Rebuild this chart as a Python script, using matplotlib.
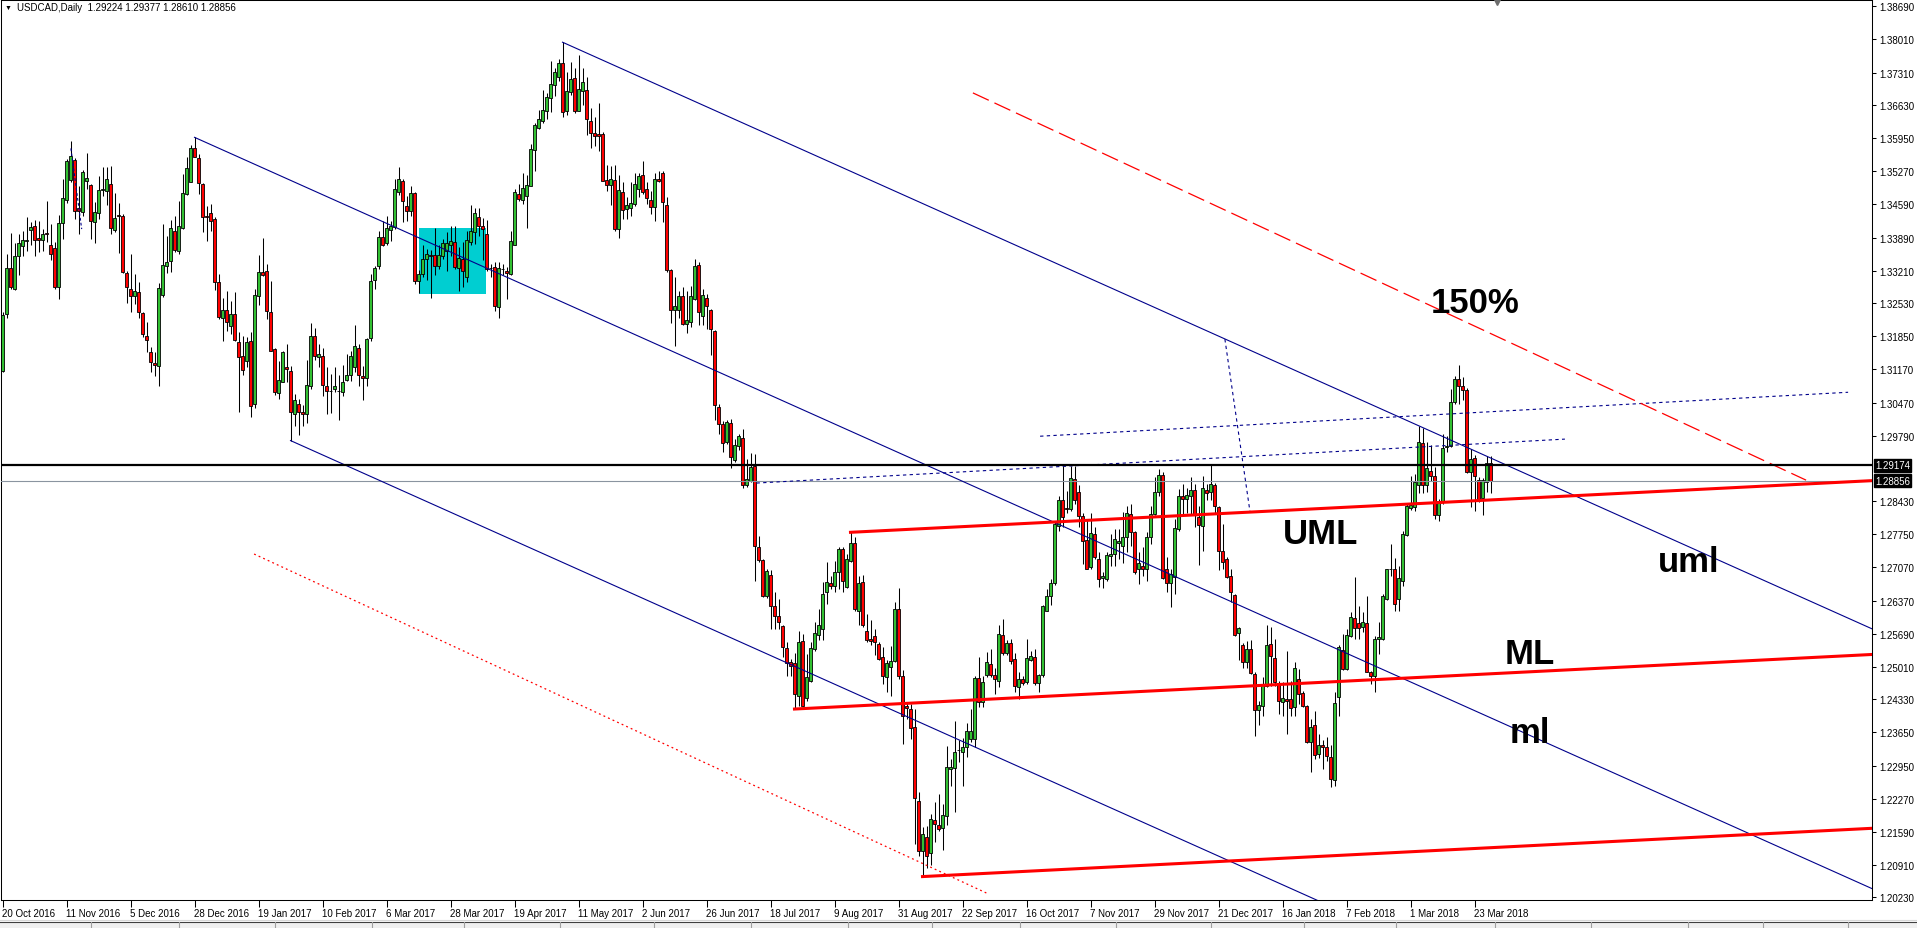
import matplotlib
matplotlib.use("Agg")
import matplotlib.pyplot as plt
from matplotlib.patches import Rectangle
from matplotlib.lines import Line2D

W, H = 1917, 929

# daily USDCAD candles, 20 Oct 2016 .. 29 Mar 2018
opens = [
    1.3114, 1.3231, 1.3326, 1.3282, 1.3352, 1.3371, 1.3382, 1.3406, 1.3413, 1.3389,
    1.3385, 1.3398, 1.3373, 1.3368, 1.3287, 1.3420, 1.3468, 1.3509, 1.3550, 1.3450,
    1.3442, 1.3506, 1.3498, 1.3421, 1.3440, 1.3487, 1.3485, 1.3500, 1.3405, 1.3436,
    1.3434, 1.3316, 1.3283, 1.3269, 1.3277, 1.3233, 1.3186, 1.3152, 1.3129, 1.3123,
    1.3271, 1.3331, 1.3340, 1.3402, 1.3362, 1.3409, 1.3480, 1.3505, 1.3574, 1.3554,
    1.3500, 1.3434, 1.3440, 1.3428, 1.3297, 1.3223, 1.3240, 1.3207, 1.3231, 1.3173,
    1.3144, 1.3133, 1.3176, 1.3044, 1.3269, 1.3319, 1.3320, 1.3235, 1.3159, 1.3068,
    1.3091, 1.3122, 1.3114, 1.3023, 1.3044, 1.3028, 1.3024, 1.3082, 1.3186, 1.3143,
    1.3144, 1.3082, 1.3072, 1.3076, 1.3072, 1.3069, 1.3094, 1.3104, 1.3122, 1.3161,
    1.3103, 1.3098, 1.3181, 1.3302, 1.3331, 1.3390, 1.3378, 1.3406, 1.3411, 1.3484,
    1.3506, 1.3454, 1.3445, 1.3482, 1.3300, 1.3313, 1.3345, 1.3353, 1.3353, 1.3331,
    1.3352, 1.3361, 1.3375, 1.3380, 1.3327, 1.3346, 1.3307, 1.3380, 1.3400, 1.3431,
    1.3413, 1.3397, 1.3327, 1.3328, 1.3245, 1.3324, 1.3320, 1.3313, 1.3375, 1.3480,
    1.3468, 1.3475, 1.3497, 1.3570, 1.3616, 1.3630, 1.3652, 1.3678, 1.3706, 1.3721,
    1.3750, 1.3652, 1.3690, 1.3719, 1.3652, 1.3693, 1.3696, 1.3630, 1.3605, 1.3604,
    1.3603, 1.3509, 1.3498, 1.3509, 1.3407, 1.3483, 1.3449, 1.3450, 1.3459, 1.3491,
    1.3518, 1.3489, 1.3468, 1.3452, 1.3511, 1.3523, 1.3457, 1.3323, 1.3240, 1.3240,
    1.3269, 1.3210, 1.3215, 1.3262, 1.3333, 1.3226, 1.3264, 1.3240, 1.3195, 1.3038,
    1.3003, 1.2966, 1.3005, 1.2928, 1.2957, 1.2974, 1.2877, 1.2886, 1.2917, 1.2749,
    1.2722, 1.2648, 1.2691, 1.2626, 1.2605, 1.2584, 1.2539, 1.2510, 1.2508, 1.2441,
    1.2553, 1.2435, 1.2472, 1.2537, 1.2567, 1.2579, 1.2655, 1.2675, 1.2667, 1.2696,
    1.2744, 1.2665, 1.2720, 1.2756, 1.2617, 1.2677, 1.2575, 1.2558, 1.2564, 1.2548,
    1.2520, 1.2479, 1.2501, 1.2513, 1.2620, 1.2482, 1.2419, 1.2413, 1.2375, 1.2222,
    1.2118, 1.2149, 1.2114, 1.2183, 1.2173, 1.2166, 1.2191, 1.2289, 1.2290, 1.2328,
    1.2323, 1.2334, 1.2351, 1.2350, 1.2477, 1.2428, 1.2483, 1.2507, 1.2484, 1.2472,
    1.2566, 1.2529, 1.2549, 1.2517, 1.2458, 1.2475, 1.2468, 1.2515, 1.2520, 1.2467,
    1.2483, 1.2617, 1.2647, 1.2673, 1.2793, 1.2846, 1.2829, 1.2827, 1.2890, 1.2862,
    1.2812, 1.2763, 1.2707, 1.2775, 1.2724, 1.2684, 1.2682, 1.2729, 1.2734, 1.2757,
    1.2751, 1.2769, 1.2817, 1.2779, 1.2702, 1.2710, 1.2703, 1.2769, 1.2817, 1.2862,
    1.2898, 1.2703, 1.2675, 1.2686, 1.2786, 1.2854, 1.2848, 1.2855, 1.2867, 1.2810,
    1.2793, 1.2867, 1.2862, 1.2878, 1.2831, 1.2740, 1.2724, 1.2688, 1.2649, 1.2571,
    1.2546, 1.2511, 1.2537, 1.2486, 1.2412, 1.2420, 1.2461, 1.2548, 1.2519, 1.2467,
    1.2427, 1.2434, 1.2434, 1.2417, 1.2475, 1.2446, 1.2420, 1.2344, 1.2380, 1.2319,
    1.2339, 1.2334, 1.2313, 1.2265, 1.2437, 1.2536, 1.2495, 1.2565, 1.2601, 1.2591,
    1.2582, 1.2591, 1.2490, 1.2481, 1.2559, 1.2558, 1.2641, 1.2704, 1.2703, 1.2641,
    1.2679, 1.2773, 1.2829, 1.2831, 1.2876, 1.2964, 1.2876, 1.2905, 1.2895, 1.2814,
    1.2841, 1.2955, 1.2957, 1.3048, 1.3097, 1.3081, 1.3074, 1.2903, 1.2933, 1.2888,
    1.2851, 1.2884, 1.29224,
]
highs = [
    1.3235, 1.3356, 1.3398, 1.3378, 1.3397, 1.3402, 1.3432, 1.3422, 1.3425, 1.3423,
    1.3407, 1.3465, 1.3418, 1.3380, 1.3436, 1.3511, 1.3552, 1.3589, 1.3554, 1.3497,
    1.3530, 1.3565, 1.3500, 1.3464, 1.3516, 1.3535, 1.3535, 1.3538, 1.3482, 1.3461,
    1.3438, 1.3321, 1.3356, 1.3313, 1.3297, 1.3236, 1.3214, 1.3162, 1.3152, 1.3295,
    1.3418, 1.3393, 1.3425, 1.3434, 1.3466, 1.3521, 1.3556, 1.3581, 1.3597, 1.3563,
    1.3502, 1.3454, 1.3459, 1.3431, 1.3314, 1.3264, 1.3278, 1.3259, 1.3276, 1.3193,
    1.3186, 1.3183, 1.3193, 1.3283, 1.3354, 1.3389, 1.3335, 1.3300, 1.3160, 1.3133,
    1.3154, 1.3169, 1.3124, 1.3066, 1.3055, 1.3042, 1.3135, 1.3213, 1.3202, 1.3168,
    1.3160, 1.3121, 1.3107, 1.3121, 1.3104, 1.3126, 1.3149, 1.3154, 1.3209, 1.3168,
    1.3124, 1.3182, 1.3314, 1.3331, 1.3402, 1.3423, 1.3435, 1.3424, 1.3511, 1.3536,
    1.3511, 1.3476, 1.3497, 1.3484, 1.3323, 1.3373, 1.3366, 1.3364, 1.3409, 1.3373,
    1.3386, 1.3400, 1.3414, 1.3413, 1.3369, 1.3380, 1.3404, 1.3456, 1.3450, 1.3451,
    1.3430, 1.3426, 1.3335, 1.3338, 1.3338, 1.3335, 1.3328, 1.3402, 1.3489, 1.3500,
    1.3524, 1.3520, 1.3583, 1.3626, 1.3654, 1.3696, 1.3689, 1.3756, 1.3740, 1.3759,
    1.3794, 1.3732, 1.3752, 1.3741, 1.3768, 1.3741, 1.3721, 1.3658, 1.3640, 1.3669,
    1.3609, 1.3540, 1.3538, 1.3540, 1.3518, 1.3504, 1.3473, 1.3505, 1.3524, 1.3524,
    1.3547, 1.3504, 1.3486, 1.3524, 1.3528, 1.3528, 1.3473, 1.3324, 1.3307, 1.3279,
    1.3286, 1.3279, 1.3290, 1.3346, 1.3338, 1.3283, 1.3273, 1.3242, 1.3197, 1.3045,
    1.3010, 1.3012, 1.3014, 1.2972, 1.2983, 1.2993, 1.2931, 1.2943, 1.2941, 1.2771,
    1.2724, 1.2702, 1.2700, 1.2655, 1.2641, 1.2586, 1.2551, 1.2517, 1.2530, 1.2575,
    1.2568, 1.2527, 1.2551, 1.2593, 1.2620, 1.2676, 1.2717, 1.2689, 1.2720, 1.2748,
    1.2748, 1.2734, 1.2779, 1.2770, 1.2689, 1.2691, 1.2610, 1.2598, 1.2579, 1.2551,
    1.2541, 1.2515, 1.2544, 1.2635, 1.2663, 1.2493, 1.2427, 1.2424, 1.2413, 1.2241,
    1.2168, 1.2171, 1.2196, 1.2220, 1.2237, 1.2216, 1.2337, 1.2310, 1.2389, 1.2348,
    1.2354, 1.2385, 1.2413, 1.2482, 1.2520, 1.2482, 1.2531, 1.2537, 1.2499, 1.2586,
    1.2600, 1.2556, 1.2557, 1.2529, 1.2490, 1.2482, 1.2558, 1.2534, 1.2537, 1.2486,
    1.2628, 1.2662, 1.2682, 1.2801, 1.2855, 1.2917, 1.2865, 1.2916, 1.2917, 1.2876,
    1.2820, 1.2805, 1.2820, 1.2789, 1.2739, 1.2696, 1.2738, 1.2776, 1.2786, 1.2786,
    1.2822, 1.2834, 1.2838, 1.2782, 1.2738, 1.2748, 1.2779, 1.2834, 1.2893, 1.2910,
    1.2903, 1.2727, 1.2703, 1.2806, 1.2869, 1.2880, 1.2870, 1.2893, 1.2879, 1.2834,
    1.2895, 1.2879, 1.2918, 1.2881, 1.2834, 1.2796, 1.2727, 1.2703, 1.2651, 1.2582,
    1.2550, 1.2553, 1.2555, 1.2489, 1.2430, 1.2479, 1.2586, 1.2582, 1.2558, 1.2472,
    1.2468, 1.2534, 1.2472, 1.2510, 1.2496, 1.2451, 1.2422, 1.2392, 1.2408, 1.2361,
    1.2348, 1.2355, 1.2339, 1.2448, 1.2546, 1.2568, 1.2579, 1.2613, 1.2686, 1.2627,
    1.2613, 1.2648, 1.2492, 1.2565, 1.2593, 1.2651, 1.2704, 1.2755, 1.2725, 1.2710,
    1.2782, 1.2838, 1.2896, 1.2900, 1.3000, 1.2996, 1.2965, 1.2960, 1.2914, 1.2848,
    1.2983, 1.2979, 1.3076, 1.3103, 1.3126, 1.3100, 1.3077, 1.2952, 1.2939, 1.2893,
    1.2891, 1.2936, 1.29377,
]
lows = [
    1.3110, 1.3223, 1.3283, 1.3280, 1.3312, 1.3351, 1.3362, 1.3373, 1.3352, 1.3359,
    1.3361, 1.3380, 1.3342, 1.3283, 1.3262, 1.3387, 1.3462, 1.3504, 1.3428, 1.3397,
    1.3435, 1.3491, 1.3387, 1.3378, 1.3428, 1.3475, 1.3456, 1.3396, 1.3400, 1.3357,
    1.3316, 1.3253, 1.3235, 1.3252, 1.3222, 1.3183, 1.3152, 1.3111, 1.3102, 1.3082,
    1.3266, 1.3316, 1.3318, 1.3359, 1.3356, 1.3407, 1.3478, 1.3504, 1.3556, 1.3480,
    1.3400, 1.3383, 1.3404, 1.3280, 1.3221, 1.3176, 1.3195, 1.3190, 1.3176, 1.3029,
    1.3105, 1.3121, 1.3017, 1.3037, 1.3250, 1.3309, 1.3220, 1.3154, 1.3064, 1.3055,
    1.3090, 1.3090, 1.2969, 1.2999, 1.2981, 1.2999, 1.3006, 1.3075, 1.3135, 1.3121,
    1.3062, 1.3024, 1.3026, 1.3069, 1.3011, 1.3061, 1.3093, 1.3093, 1.3111, 1.3083,
    1.3052, 1.3083, 1.3176, 1.3283, 1.3324, 1.3371, 1.3373, 1.3382, 1.3407, 1.3478,
    1.3421, 1.3424, 1.3435, 1.3293, 1.3275, 1.3307, 1.3302, 1.3264, 1.3311, 1.3324,
    1.3345, 1.3321, 1.3352, 1.3324, 1.3278, 1.3286, 1.3297, 1.3373, 1.3376, 1.3393,
    1.3342, 1.3321, 1.3307, 1.3238, 1.3222, 1.3311, 1.3262, 1.3311, 1.3373, 1.3466,
    1.3459, 1.3409, 1.3496, 1.3528, 1.3614, 1.3627, 1.3635, 1.3649, 1.3683, 1.3714,
    1.3640, 1.3644, 1.3685, 1.3647, 1.3651, 1.3664, 1.3602, 1.3574, 1.3580, 1.3569,
    1.3506, 1.3485, 1.3457, 1.3404, 1.3388, 1.3428, 1.3428, 1.3435, 1.3455, 1.3473,
    1.3480, 1.3459, 1.3438, 1.3424, 1.3504, 1.3422, 1.3319, 1.3212, 1.3164, 1.3222,
    1.3208, 1.3192, 1.3204, 1.3260, 1.3208, 1.3208, 1.3200, 1.3147, 1.3012, 1.2983,
    1.2945, 1.2962, 1.2912, 1.2924, 1.2950, 1.2870, 1.2872, 1.2884, 1.2679, 1.2718,
    1.2644, 1.2642, 1.2579, 1.2579, 1.2579, 1.2520, 1.2482, 1.2482, 1.2413, 1.2420,
    1.2419, 1.2430, 1.2468, 1.2534, 1.2555, 1.2555, 1.2631, 1.2662, 1.2655, 1.2662,
    1.2655, 1.2663, 1.2718, 1.2617, 1.2587, 1.2583, 1.2551, 1.2545, 1.2524, 1.2515,
    1.2465, 1.2448, 1.2441, 1.2510, 1.2476, 1.2341, 1.2392, 1.2351, 1.2134, 1.2109,
    1.2066, 1.2083, 1.2089, 1.2137, 1.2161, 1.2122, 1.2172, 1.2253, 1.2199, 1.2303,
    1.2253, 1.2313, 1.2344, 1.2334, 1.2417, 1.2417, 1.2479, 1.2479, 1.2444, 1.2458,
    1.2525, 1.2524, 1.2506, 1.2448, 1.2434, 1.2463, 1.2465, 1.2513, 1.2463, 1.2449,
    1.2479, 1.2615, 1.2628, 1.2669, 1.2782, 1.2789, 1.2820, 1.2824, 1.2838, 1.2791,
    1.2713, 1.2703, 1.2704, 1.2724, 1.2665, 1.2663, 1.2679, 1.2710, 1.2710, 1.2724,
    1.2715, 1.2738, 1.2751, 1.2693, 1.2672, 1.2689, 1.2679, 1.2755, 1.2814, 1.2855,
    1.2682, 1.2655, 1.2624, 1.2651, 1.2782, 1.2814, 1.2820, 1.2814, 1.2789, 1.2712,
    1.2740, 1.2845, 1.2845, 1.2820, 1.2700, 1.2703, 1.2684, 1.2634, 1.2564, 1.2515,
    1.2499, 1.2499, 1.2486, 1.2357, 1.2379, 1.2399, 1.2458, 1.2461, 1.2461, 1.2403,
    1.2399, 1.2361, 1.2399, 1.2399, 1.2423, 1.2417, 1.2343, 1.2282, 1.2310, 1.2311,
    1.2289, 1.2306, 1.2251, 1.2254, 1.2399, 1.2493, 1.2493, 1.2562, 1.2558, 1.2558,
    1.2572, 1.2489, 1.2465, 1.2449, 1.2527, 1.2555, 1.2638, 1.2689, 1.2615, 1.2617,
    1.2667, 1.2771, 1.2826, 1.2824, 1.2861, 1.2861, 1.2862, 1.2886, 1.2807, 1.2803,
    1.2838, 1.2945, 1.2955, 1.3045, 1.3045, 1.3052, 1.2901, 1.2831, 1.2824, 1.2841,
    1.2815, 1.2862, 1.28610,
]
closes = [
    1.3228, 1.3326, 1.3288, 1.3351, 1.3378, 1.3385, 1.3384, 1.3411, 1.3385, 1.3385,
    1.3396, 1.3397, 1.3356, 1.3288, 1.3419, 1.3471, 1.3547, 1.3558, 1.3444, 1.3445,
    1.3525, 1.3512, 1.3423, 1.3443, 1.3487, 1.3490, 1.3510, 1.3409, 1.3430, 1.3434,
    1.3319, 1.3287, 1.3269, 1.3278, 1.3235, 1.3189, 1.3178, 1.3131, 1.3126, 1.3285,
    1.3333, 1.3338, 1.3409, 1.3364, 1.3413, 1.3481, 1.3533, 1.3574, 1.3557, 1.3502,
    1.3433, 1.3433, 1.3423, 1.3298, 1.3224, 1.3240, 1.3214, 1.3231, 1.3178, 1.3143,
    1.3115, 1.3173, 1.3040, 1.3271, 1.3318, 1.3311, 1.3237, 1.3155, 1.3069, 1.3095,
    1.3152, 1.3117, 1.3029, 1.3053, 1.3028, 1.3023, 1.3085, 1.3186, 1.3144, 1.3148,
    1.3085, 1.3071, 1.3071, 1.3082, 1.3071, 1.3091, 1.3104, 1.3144, 1.3164, 1.3104,
    1.3098, 1.3180, 1.3300, 1.3326, 1.3390, 1.3375, 1.3409, 1.3413, 1.3491, 1.3511,
    1.3466, 1.3445, 1.3482, 1.3300, 1.3314, 1.3345, 1.3355, 1.3351, 1.3331, 1.3354,
    1.3378, 1.3378, 1.3382, 1.3328, 1.3347, 1.3321, 1.3384, 1.3403, 1.3440, 1.3414,
    1.3407, 1.3324, 1.3326, 1.3247, 1.3326, 1.3325, 1.3316, 1.3382, 1.3483, 1.3469,
    1.3493, 1.3498, 1.3573, 1.3623, 1.3635, 1.3654, 1.3680, 1.3708, 1.3732, 1.3750,
    1.3649, 1.3693, 1.3718, 1.3652, 1.3697, 1.3712, 1.3635, 1.3606, 1.3600, 1.3600,
    1.3507, 1.3499, 1.3511, 1.3407, 1.3488, 1.3447, 1.3457, 1.3461, 1.3500, 1.3516,
    1.3483, 1.3471, 1.3452, 1.3511, 1.3506, 1.3464, 1.3323, 1.3240, 1.3248, 1.3269,
    1.3210, 1.3219, 1.3269, 1.3330, 1.3235, 1.3270, 1.3247, 1.3200, 1.3043, 1.3003,
    1.2963, 1.3007, 1.2934, 1.2959, 1.2978, 1.2877, 1.2889, 1.2915, 1.2750, 1.2722,
    1.2648, 1.2698, 1.2627, 1.2605, 1.2593, 1.2541, 1.2508, 1.2503, 1.2444, 1.2551,
    1.2420, 1.2479, 1.2539, 1.2570, 1.2586, 1.2651, 1.2677, 1.2667, 1.2696, 1.2744,
    1.2679, 1.2724, 1.2756, 1.2620, 1.2675, 1.2586, 1.2556, 1.2553, 1.2551, 1.2517,
    1.2481, 1.2508, 1.2512, 1.2620, 1.2482, 1.2398, 1.2415, 1.2374, 1.2228, 1.2118,
    1.2154, 1.2109, 1.2185, 1.2174, 1.2165, 1.2194, 1.2292, 1.2292, 1.2325, 1.2329,
    1.2335, 1.2368, 1.2368, 1.2477, 1.2428, 1.2468, 1.2510, 1.2483, 1.2475, 1.2568,
    1.2529, 1.2549, 1.2513, 1.2460, 1.2475, 1.2467, 1.2518, 1.2522, 1.2466, 1.2483,
    1.2626, 1.2648, 1.2675, 1.2796, 1.2846, 1.2810, 1.2827, 1.2891, 1.2845, 1.2812,
    1.2762, 1.2704, 1.2778, 1.2727, 1.2682, 1.2689, 1.2733, 1.2734, 1.2765, 1.2762,
    1.2769, 1.2820, 1.2779, 1.2696, 1.2715, 1.2703, 1.2769, 1.2817, 1.2863, 1.2898,
    1.2684, 1.2673, 1.2693, 1.2787, 1.2854, 1.2847, 1.2856, 1.2867, 1.2814, 1.2795,
    1.2870, 1.2860, 1.2879, 1.2834, 1.2740, 1.2718, 1.2686, 1.2655, 1.2566, 1.2580,
    1.2511, 1.2537, 1.2488, 1.2412, 1.2421, 1.2465, 1.2546, 1.2522, 1.2468, 1.2429,
    1.2436, 1.2429, 1.2415, 1.2497, 1.2444, 1.2420, 1.2344, 1.2375, 1.2317, 1.2339,
    1.2334, 1.2315, 1.2268, 1.2426, 1.2541, 1.2496, 1.2566, 1.2603, 1.2580, 1.2580,
    1.2593, 1.2490, 1.2481, 1.2558, 1.2562, 1.2648, 1.2703, 1.2703, 1.2631, 1.2684,
    1.2775, 1.2833, 1.2836, 1.2883, 1.2965, 1.2877, 1.2912, 1.2896, 1.2814, 1.2843,
    1.2954, 1.2957, 1.3048, 1.3097, 1.3081, 1.3074, 1.2903, 1.2931, 1.2895, 1.2843,
    1.2887, 1.2922, 1.28856,
]

date_labels = ["20 Oct 2016", "11 Nov 2016", "5 Dec 2016", "28 Dec 2016", "19 Jan 2017",
               "10 Feb 2017", "6 Mar 2017", "28 Mar 2017", "19 Apr 2017", "11 May 2017",
               "2 Jun 2017", "26 Jun 2017", "18 Jul 2017", "9 Aug 2017", "31 Aug 2017",
               "22 Sep 2017", "16 Oct 2017", "7 Nov 2017", "29 Nov 2017", "21 Dec 2017",
               "16 Jan 2018", "7 Feb 2018", "1 Mar 2018", "23 Mar 2018"]
bars_per_label = 16

price_ticks = [1.38690, 1.38010, 1.37310, 1.36630, 1.35950, 1.35270, 1.34590, 1.33890,
               1.33210, 1.32530, 1.31850, 1.31170, 1.30470, 1.29790, 1.28430, 1.27750,
               1.27070, 1.26370, 1.25690, 1.25010, 1.24330, 1.23650, 1.22950, 1.22270,
               1.21590, 1.20910, 1.20230]

level_line = 1.29174   # horizontal black line
bid_price = 1.28856    # last price

# drawn objects as (bar index, price) anchor pairs
blue_upper = [(140, 1.3794), (467.4, 1.2579)]
blue_median = [(48, 1.3597), (467.4, 1.2041)]
blue_lower = [(72, 1.2969), (330, 1.2012)]
blue_handle = [(17.1, 1.3574), (19.8, 1.3407)]
dotted_a = [(188.5, 1.2881), (390.6, 1.2972)]
dotted_b = [(259.4, 1.2978), (461.4, 1.3069)]
dotted_c = [(305.6, 1.3179), (311.9, 1.2820)]
red_uml = [(212, 1.2779), (467.4, 1.2886)]
red_ml = [(198, 1.2413), (467.4, 1.2526)]
red_lml = [(230, 1.2066), (467.4, 1.2166)]
red_150 = [(242.6, 1.3689), (450.9, 1.2887)]
red_dots = [(62.9, 1.2734), (246.5, 1.2030)]
zone = (104, 120.8, 1.3273, 1.3409)   # x0, x1, low, high

labels = [("150%", 357.1, 1.3235), ("UML", 320.0, 1.2757), ("uml", 413.9, 1.2699),
          ("ML", 375.6, 1.2508), ("ml", 376.9, 1.2345)]

plt.rcParams['font.family'] = ['Liberation Sans', 'DejaVu Sans']

fig = plt.figure(figsize=(W / 100, H / 100), dpi=100)
ax = fig.add_axes([1 / W, (H - 901) / H, 1871 / W, 900 / H])
ax.set_xlim(-0.375, 467.375)
ax.set_ylim(1.20175, 1.38814)

for s in ax.spines.values():
    s.set_linewidth(0.75)
    s.set_color('black')

x = list(range(len(closes)))
ax.add_patch(Rectangle((zone[0], zone[2]), zone[1] - zone[0], zone[3] - zone[2],
                       facecolor='#00CED1', edgecolor='none', zorder=1))

ax.vlines(x, lows, highs, color='black', linewidth=0.75, zorder=2)
body_lo = [min(o, c) for o, c in zip(opens, closes)]
body_h = [abs(c - o) for o, c in zip(opens, closes)]
cols = ['#32C032' if c >= o else '#FF0000' for o, c in zip(opens, closes)]
ax.bar(x, body_h, bottom=body_lo, width=0.72, color=cols, edgecolor='black',
       linewidth=0.6, zorder=2.5)


def seg(pts, **kw):
    ax.plot([p[0] for p in pts], [p[1] for p in pts], **kw)


navy = '#00008B'
seg(blue_upper, color=navy, lw=0.8, zorder=3)
seg(blue_median, color=navy, lw=0.8, zorder=3)
seg(blue_lower, color=navy, lw=0.8, zorder=3)
seg(blue_handle, color=navy, lw=0.8, ls=(0, (2.5, 2)), zorder=3)
seg(dotted_a, color=navy, lw=0.8, ls=(0, (3, 3)), zorder=3)
seg(dotted_b, color=navy, lw=0.8, ls=(0, (3, 3)), zorder=3)
seg(dotted_c, color=navy, lw=0.8, ls=(0, (3, 3)), zorder=3)
seg(red_uml, color='#FF0000', lw=2.2, zorder=3)
seg(red_ml, color='#FF0000', lw=2.2, zorder=3)
seg(red_lml, color='#FF0000', lw=2.2, zorder=3)
seg(red_150, color='#FF0000', lw=0.9, ls=(0, (14, 5)), zorder=3)
seg(red_dots, color='#FF0000', lw=0.9, ls=(0, (1.5, 2.5)), zorder=3)

ax.axhline(level_line, color='black', lw=1.6, zorder=3)
ax.axhline(bid_price, color='#8A94A0', lw=0.8, zorder=2.8)

for txt, xi, yp in labels:
    ax.text(xi, yp, txt, fontsize=25, fontweight='bold', ha='left', va='baseline',
            color='black', zorder=4)

# right price scale
ax.yaxis.tick_right()
ax.set_yticks(price_ticks)
ax.set_yticklabels(['%.5f' % v for v in price_ticks])
ax.tick_params(axis='y', direction='out', length=3, width=0.75, labelsize=7, pad=2)
for v in (level_line, bid_price):
    ax.annotate('%.5f' % v, xy=(1, v), xycoords=('axes fraction', 'data'),
                xytext=(3, 0), textcoords='offset pixels', ha='left', va='center',
                fontsize=7, color='white', annotation_clip=False, zorder=10,
                bbox=dict(boxstyle='square,pad=0.15', facecolor='black', edgecolor='black'))

# bottom date scale
ax.set_xticks([i * bars_per_label for i in range(len(date_labels))])
ax.set_xticklabels(date_labels)
ax.tick_params(axis='x', direction='out', length=5, width=0.75, labelsize=7, pad=1)
for t in ax.get_xticklabels():
    t.set_ha('left')

# header
fig.text(5 / W, 1 - 8.5 / H, '\u25bc', fontsize=5, va='center', ha='left')
fig.text(17 / W, 1 - 8 / H, 'USDCAD,Daily  1.29224 1.29377 1.28610 1.28856',
         fontsize=7, va='center', ha='left')
ax.plot([(1497 - 1) / 1871], [1.0], marker='v', ms=7, color='#6E6E6E',
        transform=ax.transAxes, clip_on=False, zorder=10)

# tab bar strip at the bottom
fig.patches.append(Rectangle((0, 0), 1, 6 / H, transform=fig.transFigure,
                             facecolor='#F0F0F0', edgecolor='none'))
fig.lines.append(Line2D([0, 1], [8 / H, 8 / H], transform=fig.transFigure,
                        color='#D8D8D8', lw=0.8))
fig.lines.append(Line2D([0, 1], [6 / H, 6 / H], transform=fig.transFigure,
                        color='#404040', lw=0.8))
for sx in [91, 179, 275, 372, 464, 560, 654, 751, 848, 932, 1020, 1116, 1211,
           1304, 1396, 1495, 1591, 1688, 1763, 1848]:
    fig.lines.append(Line2D([sx / W, sx / W], [0, 6 / H], transform=fig.transFigure,
                            color='#A0A0A0', lw=0.8))

fig.savefig('out.png', dpi=100, facecolor='white')
